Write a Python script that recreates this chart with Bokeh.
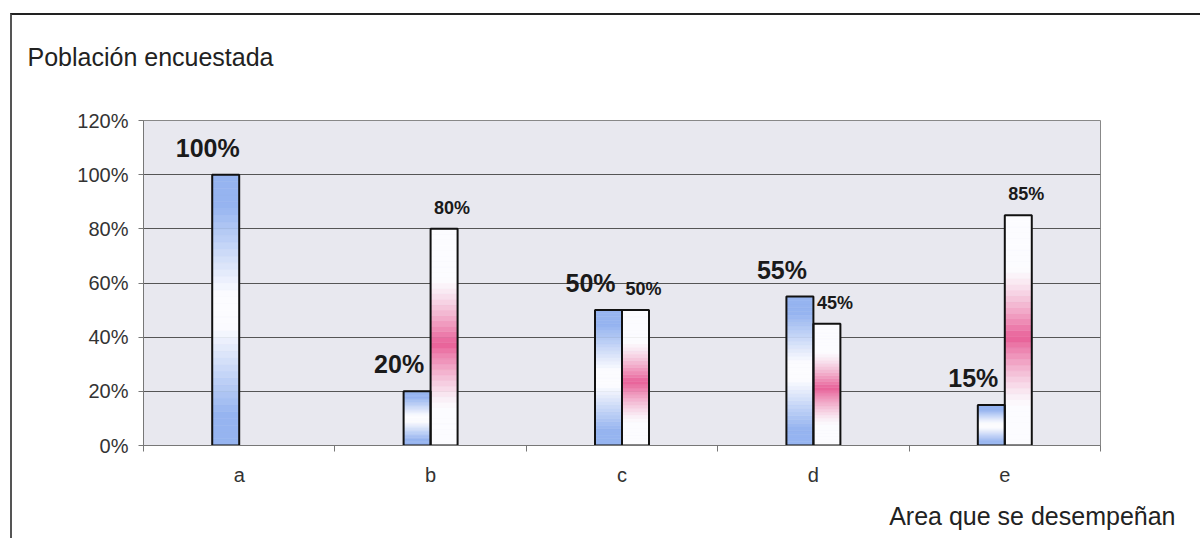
from bokeh.plotting import figure
from bokeh.models import (ColumnDataSource, Range1d, FixedTicker, PrintfTickFormatter, Title)
from bokeh.transform import dodge
from bokeh.core.properties import value
from bokeh.embed import file_html
from bokeh.resources import INLINE

# ---------------- data ----------------
categories = ["a", "b", "c", "d", "e"]
serie1 = [100, 20, 50, 55, 15]      # blue bars (%)
serie2 = [0, 80, 50, 45, 85]        # pink bars (%)
y_ticks = [0, 20, 40, 60, 80, 100, 120]
title_text = "Población encuestada"
x_title = "Area que se desempeñan"

# ---------------- style ----------------
FONT = "Liberation Sans"
W, H = 1190, 525
BAR_W = 0.141
N_SLICES = 40
BLUE = (150, 180, 240)
PINK = (232, 96, 152)
WHITE = (252, 252, 255)

n_cat = len(categories)
cat_pos = [i + 0.5 for i in range(n_cat)]       # category centres on a 0..n axis


def mix(c1, c2, s):
    r, g, b = (int(round(a * (1 - s) + bb * s)) for a, bb in zip(c1, c2))
    return "#%02x%02x%02x" % (r, g, b)


def blue_fn(t):
    d = abs(t - 0.5) * 2
    s = min(1.0, max(0.0, (d - 0.12) / 0.65))
    return mix(WHITE, BLUE, s)


def pink_fn(t):
    d = abs(t - 0.47) * 2
    s = max(0.0, 1 - d / 0.6) ** 1.3
    return mix(WHITE, PINK, s)


def grad_source(vals, fn):
    xs, bots, tops, cols = [], [], [], []
    for x, v in zip(cat_pos, vals):
        if v <= 0:
            continue
        for k in range(N_SLICES):
            t = (k + 0.5) / N_SLICES
            xs.append(x)
            bots.append(v * k / N_SLICES)
            tops.append(v * (k + 1) / N_SLICES)
            cols.append(fn(t))
    return ColumnDataSource(dict(x=xs, bottom=bots, top=tops, color=cols))


p = figure(x_range=Range1d(0, n_cat), y_range=Range1d(0, 120),
           width=W, height=H, output_backend="svg", toolbar_location=None,
           min_border_left=131, min_border_right=102, min_border_top=105, min_border_bottom=92)
p.styles = {"border-top": "2px solid #222", "border-left": "2px solid #555",
            "margin-top": "13px", "margin-left": "10px"}

p.background_fill_color = "#e8e8ef"
p.border_fill_color = "white"
p.outline_line_color = "#888888"
p.xgrid.grid_line_color = None
p.ygrid.grid_line_color = "#555555"
p.ygrid.grid_line_width = 1
p.ygrid.ticker = FixedTicker(ticks=y_ticks)

# chart title (top left); the blank second line lifts it away from the frame
p.title = Title(text=title_text + "\n ", align="left", offset=-116, standoff=44,
                text_font=FONT, text_font_size="25px", text_font_style="normal",
                text_color="#222222")

# y axis
p.yaxis.ticker = FixedTicker(ticks=y_ticks)
p.yaxis.formatter = PrintfTickFormatter(format="%d%%")
p.yaxis.axis_line_color = "#777777"
p.yaxis.major_tick_line_color = "#777777"
p.yaxis.major_tick_out = 5
p.yaxis.major_tick_in = 0
p.yaxis.minor_tick_line_color = None
p.yaxis.major_label_standoff = 10
p.yaxis.major_label_text_font = FONT
p.yaxis.major_label_text_font_size = "20px"
p.yaxis.major_label_text_color = "#333333"

# x axis: labels at category centres, tick marks at category boundaries
xa = p.xaxis[0]
xa.ticker = FixedTicker(ticks=cat_pos, minor_ticks=list(range(n_cat + 1)))
xa.major_label_overrides = {x: c for x, c in zip(cat_pos, categories)}
xa.major_tick_line_color = None
xa.minor_tick_line_color = "#777777"
xa.minor_tick_out = 6
xa.minor_tick_in = 0
xa.axis_line_color = "#777777"
xa.major_label_standoff = 12
xa.major_label_text_font = FONT
xa.major_label_text_font_size = "20px"
xa.major_label_text_color = "#333333"

# x axis title (bottom right)
p.add_layout(Title(text=x_title, align="right", offset=-75, standoff=22,
                   text_font=FONT, text_font_size="25px", text_font_style="normal",
                   text_color="#222222"), "below")

# bars (gradient slices + outline)
x1 = dodge("x", -BAR_W / 2)
x2 = dodge("x", BAR_W / 2)

g1 = grad_source(serie1, blue_fn)
g2 = grad_source(serie2, pink_fn)
p.vbar(x=x1, bottom="bottom", top="top", width=BAR_W, source=g1,
       fill_color="color", line_color="color", line_width=0.5)
p.vbar(x=x2, bottom="bottom", top="top", width=BAR_W, source=g2,
       fill_color="color", line_color="color", line_width=0.5)

s1 = ColumnDataSource(dict(x=cat_pos, v=serie1, lab=[f"{v}%" for v in serie1]))
p2 = [x for x, v in zip(cat_pos, serie2) if v > 0]
v2 = [v for v in serie2 if v > 0]
s2 = ColumnDataSource(dict(x=p2, v=v2, lab=[f"{v}%" for v in v2]))

p.vbar(x=x1, top="v", bottom=0, width=BAR_W, source=s1,
       fill_color=None, line_color="#111111", line_width=2)
p.vbar(x=x2, top="v", bottom=0, width=BAR_W, source=s2,
       fill_color=None, line_color="#111111", line_width=2)

# data labels
p.text(x=x1, y="v", text="lab", source=s1, text_font=value(FONT), text_font_style="bold",
       text_font_size="25px", text_color="#1a1a1a", text_align="center", text_baseline="middle",
       x_offset=-18, y_offset=-27)
p.text(x=x2, y="v", text="lab", source=s2, text_font=value(FONT), text_font_style="bold",
       text_font_size="18px", text_color="#1a1a1a", text_align="center", text_baseline="middle",
       x_offset=8, y_offset=-21)

open("out.html", "w").write(file_html(p, INLINE))
